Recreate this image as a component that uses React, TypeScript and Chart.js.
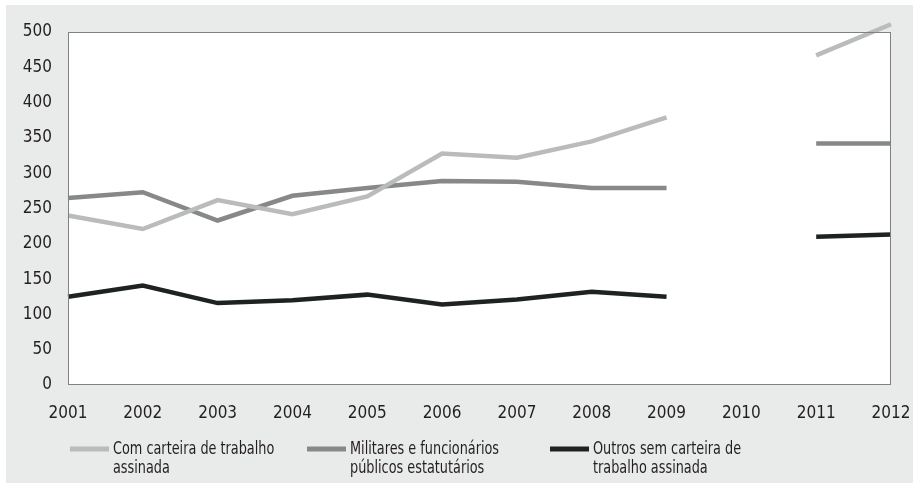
import React, { useEffect, useRef } from "react";
import { Chart, registerables } from "chart.js";

Chart.register(...registerables);

const years = ["2001", "2002", "2003", "2004", "2005", "2006", "2007", "2008", "2009", "2010", "2011", "2012"];
const comCarteira = [240, 221, 262, 242, 267, 328, 322, 345, 379, null, 467, 511];
const militares = [265, 273, 233, 268, 279, 289, 288, 279, 279, null, 342, 342];
const outros = [125, 141, 116, 120, 128, 114, 121, 132, 125, null, 210, 213];
const legendLines = [
  ["Com carteira de trabalho", "assinada"],
  ["Militares e funcionários", "públicos estatutários"],
  ["Outros sem carteira de", "trabalho assinada"],
];
const yTicks = [0, 50, 100, 150, 200, 250, 300, 350, 400, 450, 500];

const FONT = '"Liberation Sans Narrow", "DejaVu Sans Condensed", "Roboto", sans-serif';
const TEXT = "#231f20";

const bgPlugin = {
  id: "bgPlugin",
  beforeDraw(chart: any) {
    const { ctx, chartArea } = chart;
    ctx.save();
    ctx.fillStyle = "#e9eaea";
    ctx.fillRect(6, 5, chart.width - 6, chart.height - 5);
    ctx.fillStyle = "#ffffff";
    ctx.fillRect(chartArea.left, chartArea.top, chartArea.right - chartArea.left, chartArea.bottom - chartArea.top);
    ctx.restore();
  },
  afterDatasetsDraw(chart: any) {
    const { ctx, chartArea } = chart;
    ctx.save();
    ctx.strokeStyle = "#7f8281";
    ctx.lineWidth = 1;
    ctx.strokeRect(chartArea.left + 0.5, chartArea.top + 0.5, chartArea.right - chartArea.left - 1, chartArea.bottom - chartArea.top - 1);
    ctx.restore();
  },
  afterDraw(chart: any) {
    const { ctx } = chart;
    const starts = [70, 307, 550];
    ctx.save();
    chart.data.datasets.forEach((ds: any, i: number) => {
      const x = starts[i];
      const y = 449;
      ctx.strokeStyle = ds.borderColor;
      ctx.lineWidth = 5;
      ctx.lineCap = "butt";
      ctx.beginPath();
      ctx.moveTo(x, y);
      ctx.lineTo(x + 39, y);
      ctx.stroke();
      ctx.fillStyle = TEXT;
      ctx.font = `17px ${FONT}`;
      ctx.textBaseline = "middle";
      ctx.textAlign = "left";
      legendLines[i].forEach((t, j) => {
        ctx.save();
        ctx.translate(x + 43, y + 1 + j * 19);
        ctx.scale(0.84, 1);
        ctx.fillText(t, 0, 0);
        ctx.restore();
      });
    });
    ctx.restore();
  },
};

export default function App() {
  const ref = useRef<HTMLCanvasElement>(null);
  useEffect(() => {
    if (!ref.current) return;
    const chart = new Chart(ref.current, {
      type: "line",
      data: {
        labels: years,
        datasets: [
          { label: legendLines[0].join(" "), data: comCarteira, borderColor: "#b9bcbb" },
          { label: legendLines[1].join(" "), data: militares, borderColor: "#868988" },
          { label: legendLines[2].join(" "), data: outros, borderColor: "#1e2321" },
        ].map((d) => ({
          ...d,
          borderWidth: 4.5,
          pointRadius: 0,
          pointHoverRadius: 0,
          tension: 0,
          spanGaps: false,
          clip: false as any,
          borderCapStyle: "butt" as const,
          borderJoinStyle: "miter" as const,
          fill: false,
        })),
      },
      options: {
        animation: false,
        responsive: false,
        devicePixelRatio: 1,
        layout: { padding: { left: 0, right: 22, top: 32, bottom: 0 } },
        plugins: { legend: { display: false }, tooltip: { enabled: false } },
        scales: {
          x: {
            type: "category",
            offset: false,
            grid: { display: false, drawTicks: false },
            border: { display: false },
            ticks: { color: TEXT, font: { family: FONT, size: 17 }, padding: 18, maxRotation: 0, autoSkip: false },
            afterFit: (s: any) => { s.height = 98; s.paddingRight = 0; s.paddingLeft = 0; },
          },
          y: {
            min: 0,
            max: 500,
            afterBuildTicks: (s: any) => { s.ticks = yTicks.map((v) => ({ value: v })); },
            grid: { display: false, drawTicks: false },
            border: { display: false },
            ticks: { color: TEXT, font: { family: FONT, size: 17 }, padding: 16 },
            afterFit: (s: any) => { s.width = 68; s.paddingTop = 0; s.paddingBottom = 0; },
          },
        },
      },
      plugins: [bgPlugin],
    });
    return () => chart.destroy();
  }, []);
  return (
    <div style={{ position: "absolute", left: 0, top: 0, width: 913, height: 483, background: "#fff" }}>
      <canvas ref={ref} width={913} height={483} style={{ display: "block", width: 913, height: 483 }} />
    </div>
  );
}
